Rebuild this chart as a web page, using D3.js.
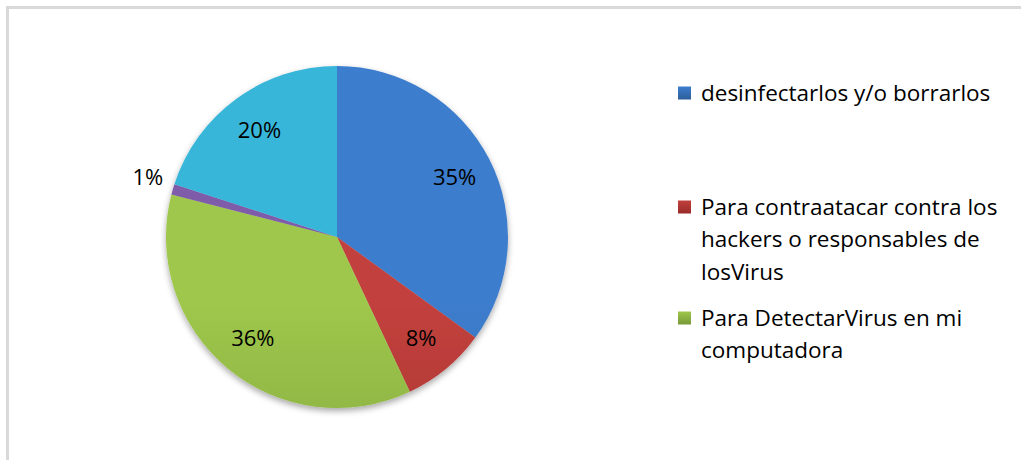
<!DOCTYPE html>
<html>
<head>
<meta charset="utf-8">
<script src="https://cdn.jsdelivr.net/npm/d3@7"></script>
<style>
  html, body { margin: 0; padding: 0; background: #fff; }
  svg { display: block; }
  text { font-family: "Open Sans", "Noto Sans", sans-serif; fill: #000; }
</style>
</head>
<body>
<svg id="chart" width="1021" height="460"></svg>
<script>
const categories = [
  "desinfectarlos y/o borrarlos",
  "Para contraatacar contra los hackers o responsables de losVirus",
  "Para DetectarVirus en mi computadora",
  "Otros",
  "Otros motivos"
];
const values = [35, 8, 36, 1, 20];
const labels = ["35%", "8%", "36%", "1%", "20%"];
const legendLines = [
  ["desinfectarlos y/o borrarlos"],
  ["Para contraatacar contra los", "hackers o responsables de", "losVirus"],
  ["Para DetectarVirus en mi", "computadora"]
];
const colorsTop = ["#3d7dcd", "#c2413d", "#9ec74c", "#7e5ca9", "#37b6d9"];
const colorsBot = ["#2d5e9a", "#982b29", "#779937", "#694b8f", "#298ca6"];

const svg = d3.select("#chart");
const W = 1021, H = 460;
const cx = 337, cy = 237, R = 171;

// chart border
svg.append("rect").attr("x", 7.5).attr("y", 7.5).attr("width", W + 10).attr("height", H + 10)
  .attr("fill", "#fff").attr("stroke", "#d9d9d9").attr("stroke-width", 3);

const defs = svg.append("defs");
const f = defs.append("filter").attr("id", "shadow").attr("x", "-20%").attr("y", "-20%").attr("width", "140%").attr("height", "140%");
f.append("feDropShadow").attr("dx", 0).attr("dy", 3).attr("stdDeviation", 3).attr("flood-color", "#000").attr("flood-opacity", 0.35);

values.forEach((v, i) => {
  const g = defs.append("linearGradient").attr("id", "g" + i)
    .attr("gradientUnits", "userSpaceOnUse")
    .attr("x1", 0).attr("y1", cy - R).attr("x2", 0).attr("y2", cy + R);
  g.append("stop").attr("offset", "0%").attr("stop-color", colorsTop[i]);
  g.append("stop").attr("offset", "100%").attr("stop-color", colorsBot[i]);
});

const pie = d3.pie().sort(null).value(d => d);
const arcs = pie(values);
const arc = d3.arc().innerRadius(0).outerRadius(R);

const g = svg.append("g").attr("transform", `translate(${cx},${cy})`);
g.append("g").attr("filter", "url(#shadow)")
  .selectAll("path").data(arcs).join("path")
  .attr("d", arc)
  .attr("fill", (d, i) => `url(#g${i})`);

const inArc = d3.arc().innerRadius(132).outerRadius(132);
const outArc = d3.arc().innerRadius(197).outerRadius(197);
g.selectAll("text.lbl").data(arcs).join("text")
  .attr("class", "lbl")
  .attr("transform", d => {
    const c = (d.data < 3 ? outArc : inArc).centroid(d);
    return `translate(${c[0]},${c[1] - (d.data < 3 ? 5 : 0)})`;
  })
  .attr("text-anchor", "middle")
  .attr("dy", "0.35em")
  .style("font-size", "22px")
  .text((d, i) => labels[i]);

// legend
const legendY = [93, 207, 318];
const lg = svg.append("g");
legendLines.forEach((lines, i) => {
  const lgGrad = defs.append("linearGradient").attr("id", "lg" + i).attr("x1", 0).attr("y1", 0).attr("x2", 0).attr("y2", 1);
  lgGrad.append("stop").attr("offset", "0%").attr("stop-color", colorsTop[i]);
  lgGrad.append("stop").attr("offset", "100%").attr("stop-color", colorsBot[i]);
  lg.append("rect").attr("x", 678).attr("y", legendY[i] - 6.5).attr("width", 13).attr("height", 13)
    .attr("fill", `url(#lg${i})`);
  lines.forEach((t, j) => {
    lg.append("text").attr("x", 701).attr("y", legendY[i] + j * 32.5)
      .attr("dy", "0.35em").style("font-size", "22.5px").text(t);
  });
});
</script>
</body>
</html>
